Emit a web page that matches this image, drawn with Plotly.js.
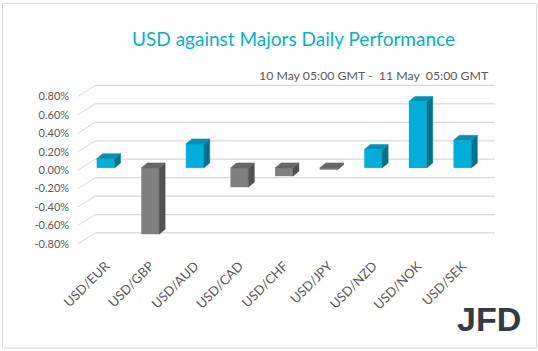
<!DOCTYPE html>
<html>
<head>
<meta charset="utf-8">
<script src="https://cdn.plot.ly/plotly-3.0.1.min.js"></script>
<style>html,body{margin:0;padding:0;background:#fff;}#chart{width:538px;height:351px;}</style>
</head>
<body>
<div id="chart"></div>
<script>
// ---- data ----
var categories = ['USD/EUR','USD/GBP','USD/AUD','USD/CAD','USD/CHF','USD/JPY','USD/NZD','USD/NOK','USD/SEK'];
var values = [0.10, -0.72, 0.26, -0.21, -0.09, -0.02, 0.20, 0.72, 0.30]; // percent
var tickValues = [-0.8, -0.6, -0.4, -0.2, 0, 0.2, 0.4, 0.6, 0.8];
var tickLabels = ['-0.80%','-0.60%','-0.40%','-0.20%','0.00%','0.20%','0.40%','0.60%','0.80%'];
var titleText = 'USD against Majors Daily Performance';
var subtitleText = '10 May 05:00 GMT -\u00a0 11 May\u00a0 05:00 GMT';

// ---- geometry / style ----
var W = 538, H = 351;
var mL = 60.9, mR = 31.1, mT = 77.5, mB = 95.9;
var pw = W - mL - mR, ph = H - mT - mB;
var yRange = [-0.92, 1.0];
var y2Range = [-0.945, 0.975];
var barW = 0.40, depthX = 0.135, depthY = 0.054;
var backDX = [-0.62, -0.235], backDY = 0.119, gridEnd = 8.73;
var font = 'Lato, "Liberation Sans", Arial, sans-serif';
var posCol = {front:'#00B0DA', top:'#0092B4', side:'#00728C'};
var negCol = {front:'#7F7F7F', top:'#676767', side:'#525252'};

function px2x(p){ return (p - mL) / pw; }
function px2y(p){ return (H - mB - p) / ph; }

var xs = categories.map(function(c,i){return i;});

// 3D faces
function faces(sign, kind){
  var X = [], Y = [];
  values.forEach(function(v,i){
    if ((v >= 0) !== (sign > 0)) return;
    var l = i - barW/2, r = i + barW/2;
    var top = Math.max(v, 0), bot = Math.min(v, 0);
    if (kind === 'side') {
      X.push(r, r, r+depthX, r+depthX, r, null);
      Y.push(bot, top, top+depthY, bot+depthY, bot, null);
    } else {
      X.push(l, r, r+depthX, l+depthX, l, null);
      Y.push(top, top, top+depthY, top+depthY, top, null);
    }
  });
  return {X:X, Y:Y};
}

var traces = [];
[1,-1].forEach(function(s){
  var col = s > 0 ? posCol : negCol;
  ['side','top'].forEach(function(k){
    var f = faces(s,k);
    traces.push({type:'scatter', mode:'lines', x:f.X, y:f.Y, xaxis:'x', yaxis:'y2',
      fill:'toself', fillcolor:col[k], line:{width:0.5, color:col[k]},
      hoverinfo:'skip', showlegend:false});
  });
});
traces.unshift({type:'bar', x:xs, y:values, xaxis:'x', yaxis:'y2', width:barW,
  marker:{color:values.map(function(v){return v>=0?posCol.front:negCol.front;}), line:{width:0}},
  hoverinfo:'skip', showlegend:false});

// gridlines (back wall + left floor diagonals)
var shapes = [];
tickValues.forEach(function(t){
  shapes.push({type:'line', xref:'x', yref:'y', x0:backDX[1], x1:gridEnd, y0:t+backDY, y1:t+backDY,
    line:{color:'#D9D9D9', width:1.2}, layer:'below'});
  shapes.push({type:'line', xref:'x', yref:'y', x0:backDX[0], x1:backDX[1], y0:t, y1:t+backDY,
    line:{color:'#D9D9D9', width:1}, layer:'below'});
});
// chart border
shapes.push({type:'rect', xref:'paper', yref:'paper', x0:px2x(2.5), x1:px2x(536.5), y0:px2y(348.5), y1:px2y(2.5),
  line:{color:'#D9D9D9', width:1}, layer:'below'});

var layout = {
  width:W, height:H, margin:{l:mL, r:mR, t:mT, b:mB, pad:0},
  paper_bgcolor:'#ffffff', plot_bgcolor:'rgba(0,0,0,0)',
  font:{family:font, color:'#595959', size:11},
  title:{text:titleText, font:{family:font, size:19, color:'#00B0DA'},
    xref:'container', yref:'container', x:293.5/W, y:1-39/H, xanchor:'center', yanchor:'middle'},
  xaxis:{range:[-1,9], tickvals:xs, ticktext:categories, tickangle:-45, showgrid:false,
    zeroline:false, showline:false, ticks:'', tickfont:{size:13, color:'#595959'}, fixedrange:true},
  yaxis:{range:yRange, tickvals:tickValues, ticktext:tickLabels, anchor:'free', position:px2x(69),
    showgrid:false, zeroline:false, showline:false, ticks:'', tickfont:{size:11, color:'#595959'}, fixedrange:true},
  yaxis2:{range:y2Range, overlaying:'y', visible:false, fixedrange:true},
  shapes:shapes,
  annotations:[
    {text:subtitleText, xref:'paper', yref:'paper', x:px2x(490.7), y:px2y(74.7), xanchor:'right', yanchor:'middle',
      showarrow:false, font:{family:font, size:12.3, color:'#595959'}},
    {text:'<b>JFD</b>', xref:'paper', yref:'paper', x:px2x(523), y:px2y(319), xanchor:'right', yanchor:'middle',
      showarrow:false, font:{family:'"Liberation Sans Narrow", "Liberation Sans", Arial, sans-serif', size:34, color:'#353B44'}}
  ]
};

Plotly.newPlot('chart', traces, layout, {displayModeBar:false, staticPlot:true});
</script>
</body>
</html>
